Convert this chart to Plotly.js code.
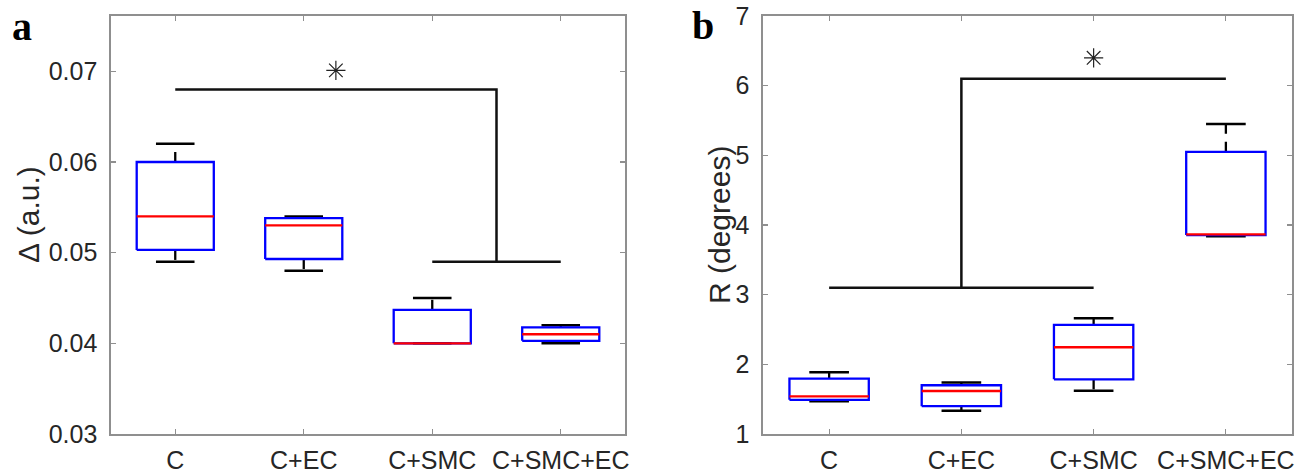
<!DOCTYPE html>
<html>
<head>
<meta charset="utf-8">
<script src="https://cdn.plot.ly/plotly-3.0.1.min.js"></script>
<style>html,body{margin:0;padding:0;background:#fff;}#chart{width:1309px;height:474px;}</style>
</head>
<body>
<div id="chart"></div>
<script>
// ---------- data ----------
const categories = ['C', 'C+EC', 'C+SMC', 'C+SMC+EC'];
const positions = [1, 2, 3, 4];

// Panel a: Δ (a.u.)
const deltaLowerWhisker = [0.0490, 0.0480, 0.0400, 0.0400];
const deltaQ1           = [0.0503, 0.0493, 0.0400, 0.04028];
const deltaMedian       = [0.0540, 0.0530, 0.0400, 0.0410];
const deltaQ3           = [0.0600, 0.0538, 0.0437, 0.04175];
const deltaUpperWhisker = [0.0620, 0.0540, 0.0450, 0.0420];
const deltaTicks = [0.03, 0.04, 0.05, 0.06, 0.07];

// Panel b: R (degrees)
const rLowerWhisker = [1.47, 1.335, 1.62, 3.84];
const rQ1           = [1.49, 1.40, 1.785, 3.856];
const rMedian       = [1.54, 1.617, 2.245, 3.866];
const rQ3           = [1.795, 1.70, 2.565, 5.05];
const rUpperWhisker = [1.885, 1.74, 2.66, 5.45];
const rTicks = [1, 2, 3, 4, 5, 6, 7];

// significance brackets
// panel a: C vs (C+SMC, C+SMC+EC)
const sigA = {leftFrom: 1, rightFrom: 3, rightTo: 4, leftLevel: 0.068, rightLevel: 0.049, starX: 2.25, starY: 0.0701};
// panel b: (C, C+EC, C+SMC) vs C+SMC+EC
const sigB = {lowFrom: 1, lowTo: 3, highTo: 4, lowLevel: 3.1, highLevel: 6.1, starX: 3, starY: 6.4};

// ---------- build ----------
const W = 1309, H = 474;
const boxHalf = 0.3, capHalf = 0.15;

function boxTraces(xa, ya, lo, q1, med, q3, hi) {
  const wx = [], wy = [], cx = [], cy = [], bx = [], by = [], mx = [], my = [];
  positions.forEach((p, i) => {
    wx.push(p, p, null, p, p, null);
    wy.push(q3[i], hi[i], null, q1[i], lo[i], null);
    cx.push(p - capHalf, p + capHalf, null, p - capHalf, p + capHalf, null);
    cy.push(hi[i], hi[i], null, lo[i], lo[i], null);
    bx.push(p - boxHalf, p + boxHalf, p + boxHalf, p - boxHalf, p - boxHalf, null);
    by.push(q1[i], q1[i], q3[i], q3[i], q1[i], null);
    mx.push(p - boxHalf, p + boxHalf, null);
    my.push(med[i], med[i], null);
  });
  const base = {type: 'scatter', mode: 'lines', xaxis: xa, yaxis: ya, hoverinfo: 'skip', showlegend: false};
  return [
    Object.assign({}, base, {x: wx, y: wy, line: {color: '#000', width: 2.3, dash: '10px,8px'}}),
    Object.assign({}, base, {x: cx, y: cy, line: {color: '#000', width: 2.5}}),
    Object.assign({}, base, {x: bx, y: by, line: {color: '#0000ff', width: 2.3}}),
    Object.assign({}, base, {x: mx, y: my, line: {color: '#ff0000', width: 2.3}})
  ];
}

const traces = [];
traces.push(...boxTraces('x', 'y', deltaLowerWhisker, deltaQ1, deltaMedian, deltaQ3, deltaUpperWhisker));
traces.push(...boxTraces('x2', 'y2', rLowerWhisker, rQ1, rMedian, rQ3, rUpperWhisker));

// bracket a
const midA = (sigA.rightFrom + sigA.rightTo) / 2;
traces.push({type: 'scatter', mode: 'lines', xaxis: 'x', yaxis: 'y', hoverinfo: 'skip', showlegend: false,
  x: [sigA.leftFrom, midA, midA, null, sigA.rightFrom, sigA.rightTo],
  y: [sigA.leftLevel, sigA.leftLevel, sigA.rightLevel, null, sigA.rightLevel, sigA.rightLevel],
  line: {color: '#111', width: 2.5}});
traces.push({type: 'scatter', mode: 'markers', xaxis: 'x', yaxis: 'y', hoverinfo: 'skip', showlegend: false,
  x: [sigA.starX], y: [sigA.starY],
  marker: {symbol: 'asterisk-open', size: 16, color: '#222', line: {color: '#222', width: 1.2}}});

// bracket b
const midLowB = (sigB.lowFrom + sigB.lowTo) / 2;
traces.push({type: 'scatter', mode: 'lines', xaxis: 'x2', yaxis: 'y2', hoverinfo: 'skip', showlegend: false,
  x: [sigB.lowFrom, sigB.lowTo, null, midLowB, midLowB, sigB.highTo],
  y: [sigB.lowLevel, sigB.lowLevel, null, sigB.lowLevel, sigB.highLevel, sigB.highLevel],
  line: {color: '#111', width: 2.5}});
traces.push({type: 'scatter', mode: 'markers', xaxis: 'x2', yaxis: 'y2', hoverinfo: 'skip', showlegend: false,
  x: [sigB.starX], y: [sigB.starY],
  marker: {symbol: 'asterisk-open', size: 16, color: '#222', line: {color: '#222', width: 1.2}}});

const fontFam = '"Liberation Sans", Arial, Helvetica, sans-serif';
const axisColor = '#8f8f8f';
const textColor = '#262626';

function xAxis(domain, anchor) {
  return {
    domain: domain, anchor: anchor, range: [0.5, 4.5],
    tickmode: 'array', tickvals: positions, ticktext: categories,
    ticks: 'inside', ticklen: 5, tickwidth: 1.2, tickcolor: axisColor,
    showline: true, linecolor: axisColor, linewidth: 1.6, mirror: 'ticks',
    showgrid: false, zeroline: false, ticklabelstandoff: 3,
    tickfont: {family: fontFam, size: 25, color: textColor}
  };
}
function yAxis(domain, anchor, range, ticks, txt) {
  return {
    domain: domain, anchor: anchor, range: range,
    tickmode: 'array', tickvals: ticks, ticktext: txt,
    ticks: 'inside', ticklen: 5, tickwidth: 1.2, tickcolor: axisColor,
    showline: true, linecolor: axisColor, linewidth: 1.6, mirror: 'ticks',
    showgrid: false, zeroline: false, ticklabelstandoff: 7,
    tickfont: {family: fontFam, size: 25, color: textColor}
  };
}

const yDom = [(H - 434) / H, (H - 16) / H];
const layout = {
  width: W, height: H,
  margin: {l: 0, r: 0, t: 0, b: 0},
  paper_bgcolor: '#fff', plot_bgcolor: '#fff',
  showlegend: false,
  xaxis: xAxis([111 / W, 625 / W], 'y'),
  yaxis: yAxis(yDom, 'x', [0.03, 0.0761], deltaTicks, deltaTicks.map(v => v.toFixed(2))),
  xaxis2: xAxis([763 / W, 1292 / W], 'y2'),
  yaxis2: yAxis(yDom, 'x2', [1, 7], rTicks, rTicks.map(String)),
  annotations: [
    {text: '<b>a</b>', xref: 'paper', yref: 'paper', x: 22 / W, y: 1 - 26 / H, xanchor: 'center', yanchor: 'middle', showarrow: false,
     font: {family: '"Liberation Serif", "Times New Roman", serif', size: 40, color: '#000'}},
    {text: '<b>b</b>', xref: 'paper', yref: 'paper', x: 703 / W, y: 1 - 25 / H, xanchor: 'center', yanchor: 'middle', showarrow: false,
     font: {family: '"Liberation Serif", "Times New Roman", serif', size: 40, color: '#000'}},
    {text: 'Δ (a.u.)', xref: 'paper', yref: 'paper', x: 28 / W, y: 1 - 215 / H, xanchor: 'center', yanchor: 'middle', showarrow: false,
     textangle: -90, font: {family: fontFam, size: 30, color: textColor}},
    {text: 'R (degrees)', xref: 'paper', yref: 'paper', x: 719 / W, y: 1 - 225 / H, xanchor: 'center', yanchor: 'middle', showarrow: false,
     textangle: -90, font: {family: fontFam, size: 30, color: textColor}}
  ]
};

Plotly.newPlot('chart', traces, layout, {displayModeBar: false, staticPlot: true});
</script>
</body>
</html>
